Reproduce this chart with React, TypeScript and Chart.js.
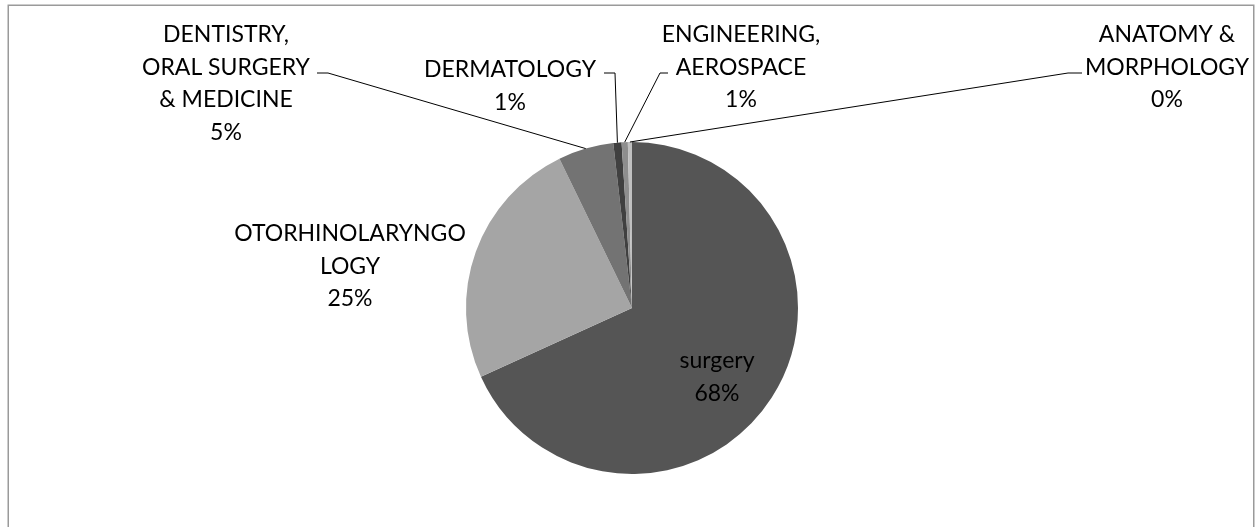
import React, { useEffect, useRef } from "react";
import { Chart, registerables } from "chart.js";

Chart.register(...registerables);

const categories = [
  "surgery",
  "OTORHINOLARYNGOLOGY",
  "DENTISTRY, ORAL SURGERY & MEDICINE",
  "DERMATOLOGY",
  "ENGINEERING, AEROSPACE",
  "ANATOMY & MORPHOLOGY",
];
const values = [68.2, 24.6, 5.4, 0.8, 0.6, 0.4];
const labelLines = [
  ["surgery"],
  ["OTORHINOLARYNGO", "LOGY"],
  ["DENTISTRY,", "ORAL SURGERY", "& MEDICINE"],
  ["DERMATOLOGY"],
  ["ENGINEERING,", "AEROSPACE"],
  ["ANATOMY &", "MORPHOLOGY"],
];
const sliceColors = ["#555555", "#a5a5a5", "#737373", "#404040", "#8e8e8e", "#c0c0c0"];

// label layout (canvas pixels): centre x, centre y of first line, leader elbow
const labelLayout = [
  { cx: 717, y0: 360, leader: null },
  { cx: 350, y0: 233, leader: null },
  { cx: 226, y0: 34, leader: [[317, 73], [328, 73]] },
  { cx: 510, y0: 69, leader: [[604, 73], [615, 73]] },
  { cx: 741, y0: 34, leader: [[668, 73], [660, 73]] },
  { cx: 1167, y0: 34, leader: [[1082, 73], [1068, 73]] },
];

const FONT = "23px Lato, 'Open Sans', sans-serif";
const LINE_H = 32.5;
const CAP_OFF = 8;

const labelPlugin = {
  id: "pieLabels",
  beforeDraw(chart: any) {
    const ctx = chart.ctx;
    ctx.save();
    ctx.strokeStyle = "#9a9a9a";
    ctx.lineWidth = 1.5;
    ctx.strokeRect(8.25, 5.25, 1245.5, 560);
    ctx.restore();
  },
  afterDraw(chart: any) {
    const ctx = chart.ctx;
    const meta = chart.getDatasetMeta(0);
    const ds = chart.data.datasets[0].data as number[];
    const total = ds.reduce((a, b) => a + b, 0);
    ctx.save();
    meta.data.forEach((arc: any, i: number) => {
      const lay = labelLayout[i];
      const p = arc.getProps(["x", "y", "startAngle", "endAngle", "outerRadius"], true);
      const mid = (p.startAngle + p.endAngle) / 2;
      const ex = p.x + Math.cos(mid) * p.outerRadius;
      const ey = p.y + Math.sin(mid) * p.outerRadius;
      if (lay.leader) {
        ctx.beginPath();
        ctx.strokeStyle = "#000";
        ctx.lineWidth = 1;
        ctx.moveTo(lay.leader[0][0], lay.leader[0][1]);
        ctx.lineTo(lay.leader[1][0], lay.leader[1][1]);
        ctx.lineTo(ex, ey);
        ctx.stroke();
      }
      const pct = Math.round((ds[i] / total) * 100) + "%";
      const lines = [...labelLines[i], pct];
      ctx.font = FONT;
      ctx.fillStyle = "#000";
      ctx.textAlign = "center";
      ctx.textBaseline = "alphabetic";
      lines.forEach((t, k) => {
        ctx.fillText(t, lay.cx, lay.y0 + CAP_OFF + k * LINE_H);
      });
    });
    ctx.restore();
  },
};

export default function App() {
  const ref = useRef<HTMLCanvasElement>(null);
  useEffect(() => {
    if (!ref.current) return;
    const chart = new Chart(ref.current, {
      type: "pie",
      data: {
        labels: categories,
        datasets: [
          {
            data: values,
            backgroundColor: sliceColors,
            borderWidth: 0,
          },
        ],
      },
      options: {
        animation: false,
        responsive: false,
        layout: { padding: { top: 142, bottom: 53, left: 7, right: 0 } },
        plugins: { legend: { display: false }, tooltip: { enabled: false } },
      },
      plugins: [labelPlugin],
    });
    return () => chart.destroy();
  }, []);
  return (
    <div style={{ position: "fixed", left: 0, top: 0, width: 1257, height: 527, background: "#fff" }}>
      <canvas ref={ref} width={1257} height={527} style={{ width: 1257, height: 527 }} />
    </div>
  );
}
